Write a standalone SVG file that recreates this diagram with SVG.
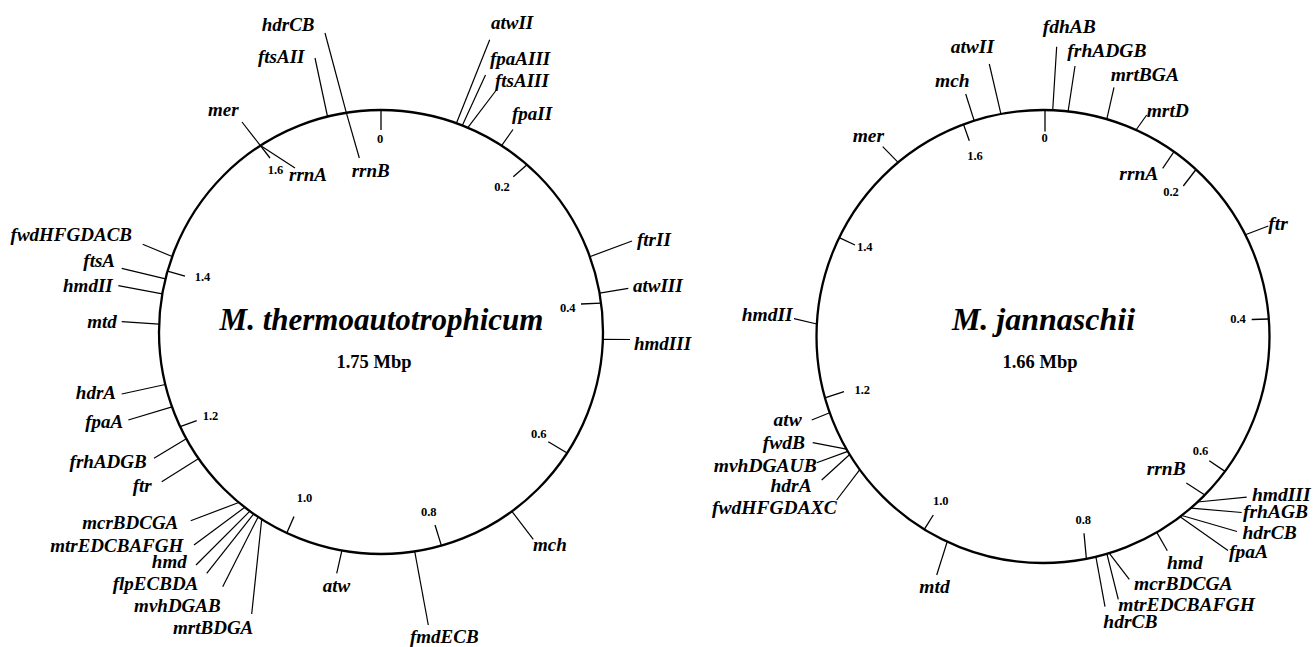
<svg xmlns="http://www.w3.org/2000/svg" width="1315" height="647" viewBox="0 0 1315 647">
<style>
.c{fill:none;stroke:#000;stroke-width:2.3}
line{stroke:#000;stroke-width:1.2}
.t{stroke-width:1.3}
.g{font-family:"Liberation Serif",serif;font-style:italic;font-weight:bold;font-size:19px;fill:#000}
.g2{font-family:"Liberation Serif",serif;font-style:italic;font-weight:bold;font-size:19.5px;fill:#000}
.s{font-family:"Liberation Serif",serif;font-weight:bold;font-size:12.5px;fill:#000;text-anchor:middle}
.e{text-anchor:end}
.ti{font-family:"Liberation Serif",serif;font-style:italic;font-weight:bold;text-anchor:middle;fill:#000}
.sub{font-family:"Liberation Serif",serif;font-weight:bold;font-size:18.5px;text-anchor:middle;fill:#000}
</style>
<rect width="1315" height="647" fill="#fff"/>

<!-- ===== Left map: M. thermoautotrophicum ===== -->
<g id="mth">
<circle id="mth-circle" class="c" cx="381" cy="332" r="222"/>
<text class="ti" x="381.5" y="330" font-size="31">M. thermoautotrophicum</text>
<text class="sub" x="374" y="368">1.75 Mbp</text>
<g id="mth-scale">
<line class="t" x1="381" y1="110" x2="381" y2="130"/><text class="s" x="380" y="143">0</text>
<line class="t" x1="527" y1="164.7" x2="513.3" y2="176.7"/><text class="s" x="502" y="190.7">0.2</text>
<line class="t" x1="601.1" y1="303.1" x2="581" y2="304"/><text class="s" x="567.7" y="311.7">0.4</text>
<line class="t" x1="567.1" y1="453" x2="548.3" y2="441.7"/><text class="s" x="538.7" y="438.3">0.6</text>
<line class="t" x1="441.4" y1="545.6" x2="435" y2="525"/><text class="s" x="428.7" y="516">0.8</text>
<line class="t" x1="286.8" y1="533" x2="294" y2="516.5"/><text class="s" x="304.5" y="501.7">1.0</text>
<line class="t" x1="180.2" y1="426.6" x2="196.7" y2="420.7"/><text class="s" x="210.5" y="420">1.2</text>
<line class="t" x1="167.5" y1="271" x2="185" y2="276"/><text class="s" x="202.5" y="280.7">1.4</text>
<line class="t" x1="260.4" y1="145.6" x2="270" y2="158"/><text class="s" x="275.5" y="174">1.6</text>
</g>
<g id="mth-hdrCB"><line x1="346.3" y1="112.7" x2="325" y2="33"/><text class="g" x="261.7" y="31">hdrCB</text></g>
<g id="mth-rrnB"><line x1="346.3" y1="112.7" x2="359.3" y2="158"/><text class="g" x="351.7" y="177">rrnB</text></g>
<g id="mth-ftsAII"><line x1="327.5" y1="116.5" x2="315" y2="58"/><text class="g" x="258" y="63">ftsAII</text></g>
<g id="mth-mer"><line x1="260.4" y1="145.6" x2="242" y2="122"/><text class="g" x="208" y="116">mer</text></g>
<g id="mth-rrnA"><line x1="260.4" y1="145.6" x2="295" y2="168"/><text class="g" x="289" y="181">rrnA</text></g>
<g id="mth-fwdHFGDACB"><line x1="172.2" y1="256.5" x2="142.7" y2="244.3"/><text class="g e" x="132" y="241">fwdHFGDACB</text></g>
<g id="mth-ftsA"><line x1="165.5" y1="278.8" x2="121.7" y2="268.3"/><text class="g e" x="115" y="266.7">ftsA</text></g>
<g id="mth-hmdII"><line x1="162.3" y1="293.8" x2="118.3" y2="285.7"/><text class="g e" x="112.7" y="292">hmdII</text></g>
<g id="mth-mtd"><line x1="159.1" y1="324.1" x2="121.7" y2="321.7"/><text class="g e" x="116.7" y="328">mtd</text></g>
<g id="mth-hdrA"><line x1="165.3" y1="384.5" x2="121.7" y2="394"/><text class="g e" x="116" y="399">hdrA</text></g>
<g id="mth-fpaA"><line x1="172" y1="406.9" x2="128.3" y2="420"/><text class="g e" x="123.3" y="428">fpaA</text></g>
<g id="mth-frhADGB"><line x1="186.3" y1="438.7" x2="154" y2="458.3"/><text class="g e" x="146.7" y="468">frhADGB</text></g>
<g id="mth-ftr"><line x1="198.7" y1="458.6" x2="161.7" y2="481.7"/><text class="g e" x="151.7" y="491.7">ftr</text></g>
<g id="mth-mcrBDCGA"><line x1="238.8" y1="502.5" x2="190.7" y2="520.7"/><text class="g e" x="178.3" y="529.3">mcrBDCGA</text></g>
<g id="mth-mtrEDCBAFGH"><line x1="244.8" y1="507.3" x2="194" y2="545"/><text class="g e" x="183.3" y="551.7">mtrEDCBAFGH</text></g>
<g id="mth-hmd"><line x1="249.9" y1="511.2" x2="196" y2="565"/><text class="g e" x="186.7" y="568.3">hmd</text></g>
<g id="mth-flpECBDA"><line x1="253.7" y1="513.9" x2="206.7" y2="573.3"/><text class="g e" x="198.3" y="590">flpECBDA</text></g>
<g id="mth-mvhDGAB"><line x1="258.1" y1="516.9" x2="222.7" y2="586.7"/><text class="g e" x="220.7" y="611.7">mvhDGAB</text></g>
<g id="mth-mrtBDGA"><line x1="261.7" y1="519.2" x2="251.7" y2="614"/><text class="g e" x="253.3" y="634">mrtBDGA</text></g>
<g id="mth-atw"><line x1="341.9" y1="550.5" x2="336.7" y2="573.3"/><text class="g" x="322.7" y="591.7">atw</text></g>
<g id="mth-fmdECB"><line x1="414.7" y1="551.4" x2="428.3" y2="625"/><text class="g" x="410" y="643">fmdECB</text></g>
<g id="mth-mch"><line x1="511.9" y1="511.3" x2="533.3" y2="539.3"/><text class="g" x="533" y="550.7">mch</text></g>
<g id="mth-hmdIII"><line x1="602.9" y1="339.3" x2="630" y2="339.5"/><text class="g" x="634" y="350">hmdIII</text></g>
<g id="mth-atwIII"><line x1="599.6" y1="293.1" x2="628.3" y2="288.3"/><text class="g" x="633" y="292">atwIII</text></g>
<g id="mth-ftrII"><line x1="589.8" y1="256.7" x2="632" y2="241"/><text class="g" x="637" y="246">ftrII</text></g>
<g id="mth-fpaII"><line x1="501.6" y1="145.6" x2="513" y2="129.5"/><text class="g" x="512" y="120">fpaII</text></g>
<g id="mth-ftsAIII"><line x1="467.8" y1="127.7" x2="496" y2="90.5"/><text class="g" x="495" y="87.3">ftsAIII</text></g>
<g id="mth-fpaAIII"><line x1="462.3" y1="125.4" x2="485.5" y2="75"/><text class="g" x="490" y="65">fpaAIII</text></g>
<g id="mth-atwII"><line x1="456.4" y1="123.2" x2="489.7" y2="39.7"/><text class="g" x="491" y="28.5">atwII</text></g>
</g>

<!-- ===== Right map: M. jannaschii ===== -->
<g id="mja">
<circle id="mja-circle" class="c" cx="1043" cy="336.5" r="226.5"/>
<text class="ti" x="1043.5" y="330" font-size="32">M. jannaschii</text>
<text class="sub" x="1040" y="368">1.66 Mbp</text>
<g id="mja-scale">
<line class="t" x1="1045" y1="110" x2="1045" y2="131.5"/><text class="s" x="1044.5" y="141.7">0</text>
<line class="t" x1="1196" y1="169.5" x2="1183.3" y2="186"/><text class="s" x="1171" y="196">0.2</text>
<line class="t" x1="1268.8" y1="319" x2="1251.7" y2="319.5"/><text class="s" x="1238" y="322.7">0.4</text>
<line class="t" x1="1225" y1="471.4" x2="1209.3" y2="460.7"/><text class="s" x="1200.5" y="455">0.6</text>
<line class="t" x1="1086.4" y1="558.8" x2="1084" y2="533.3"/><text class="s" x="1083.3" y="524">0.8</text>
<line class="t" x1="924.3" y1="529.4" x2="933.3" y2="515"/><text class="s" x="940.8" y="505">1.0</text>
<line class="t" x1="824.9" y1="397.8" x2="844" y2="391.7"/><text class="s" x="862.2" y="394">1.2</text>
<line class="t" x1="839.2" y1="237.6" x2="855" y2="245"/><text class="s" x="864.7" y="250.7">1.4</text>
<line class="t" x1="963.5" y1="124.4" x2="969.3" y2="140.7"/><text class="s" x="975" y="160">1.6</text>
</g>
<g id="mja-atwII"><line x1="1000.9" y1="113.9" x2="989.3" y2="64"/><text class="g2" x="950.7" y="53.3">atwII</text></g>
<g id="mja-mch"><line x1="974.2" y1="120.7" x2="965.7" y2="94"/><text class="g2" x="935" y="86.7">mch</text></g>
<g id="mja-mer"><line x1="898.1" y1="162.4" x2="882.7" y2="146.7"/><text class="g2" x="852.7" y="141.7">mer</text></g>
<g id="mja-hmdII"><line x1="816.8" y1="324" x2="794" y2="318.7"/><text class="g2 e" x="792.7" y="320.7">hmdII</text></g>
<g id="mja-atw"><line x1="829.7" y1="412.8" x2="811.7" y2="420"/><text class="g2 e" x="801.7" y="426">atw</text></g>
<g id="mja-fwdB"><line x1="846.5" y1="449.1" x2="812.7" y2="442.7"/><text class="g2 e" x="805" y="449.3">fwdB</text></g>
<g id="mja-mvhDGAUB"><line x1="847.8" y1="451.4" x2="816.7" y2="462.7"/><text class="g2 e" x="816.7" y="471.7">mvhDGAUB</text></g>
<g id="mja-hdrA"><line x1="849.7" y1="454.5" x2="821.7" y2="480"/><text class="g2 e" x="811.7" y="491.7">hdrA</text></g>
<g id="mja-fwdHFGDAXC"><line x1="859.8" y1="469.6" x2="836.7" y2="500"/><text class="g2 e" x="836.7" y="514">fwdHFGDAXC</text></g>
<g id="mja-mtd"><line x1="947.2" y1="541.7" x2="936.7" y2="575"/><text class="g2" x="919.3" y="593.3">mtd</text></g>
<g id="mja-hdrCB2"><line x1="1095.9" y1="556.8" x2="1105" y2="606.7"/><text class="g2" x="1103.3" y="628.3">hdrCB</text></g>
<g id="mja-mtrEDCBAFGH"><line x1="1106.9" y1="553.8" x2="1118.3" y2="599.3"/><text class="g2" x="1118.3" y="610.7">mtrEDCBAFGH</text></g>
<g id="mja-mcrBDCGA"><line x1="1109.2" y1="553.1" x2="1129.3" y2="579.3"/><text class="g2" x="1134" y="590">mcrBDCGA</text></g>
<g id="mja-hmd"><line x1="1156.8" y1="532.4" x2="1167.3" y2="550.7"/><text class="g2" x="1167" y="569">hmd</text></g>
<g id="mja-fpaA"><line x1="1180.1" y1="516.8" x2="1228" y2="550.5"/><text class="g2" x="1229" y="557.5">fpaA</text></g>
<g id="mja-hdrCB"><line x1="1181.8" y1="515.5" x2="1237" y2="531.5"/><text class="g2" x="1242.5" y="539">hdrCB</text></g>
<g id="mja-frhAGB"><line x1="1190.9" y1="508.1" x2="1241.7" y2="512.5"/><text class="g2" x="1243" y="518">frhAGB</text></g>
<g id="mja-hmdIII"><line x1="1197.6" y1="502" x2="1246.7" y2="497.2"/><text class="g2" x="1252" y="501">hmdIII</text></g>
<g id="mja-rrnB"><line x1="1204.8" y1="495" x2="1186.3" y2="483"/><text class="g2" x="1146.7" y="475">rrnB</text></g>
<g id="mja-ftr"><line x1="1245.4" y1="234.7" x2="1268.3" y2="226"/><text class="g2" x="1268.3" y="230">ftr</text></g>
<g id="mja-rrnA"><line x1="1174" y1="151.7" x2="1162.7" y2="168.3"/><text class="g2" x="1119.3" y="180">rrnA</text></g>
<g id="mja-mrtD"><line x1="1136" y1="130" x2="1146.7" y2="115"/><text class="g2" x="1146.7" y="117.3">mrtD</text></g>
<g id="mja-mrtBGA"><line x1="1106.8" y1="119.1" x2="1114" y2="87.3"/><text class="g2" x="1110.7" y="80.7">mrtBGA</text></g>
<g id="mja-frhADGB"><line x1="1068.1" y1="111.4" x2="1075" y2="66"/><text class="g2" x="1067.3" y="56.7">frhADGB</text></g>
<g id="mja-fdhAB"><line x1="1052.7" y1="110.2" x2="1056.7" y2="46.7"/><text class="g2" x="1042.7" y="33.3">fdhAB</text></g>
</g>
</svg>
